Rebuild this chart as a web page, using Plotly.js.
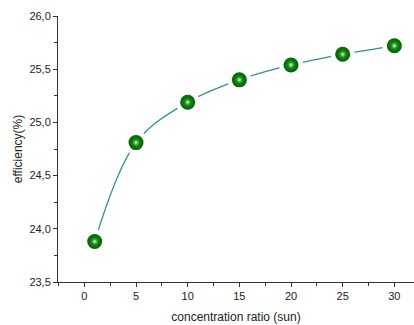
<!DOCTYPE html>
<html><head><meta charset="utf-8">
<script src="https://cdn.plot.ly/plotly-3.0.1.min.js"></script>
<style>html,body{margin:0;padding:0;background:#fff}#c{width:414px;height:325px}</style>
</head><body><div id="c"></div>
<script>
var ratio = [1, 5, 10, 15, 20, 25, 30];
var efficiency = [23.88, 24.81, 25.19, 25.40, 25.54, 25.64, 25.72];
var yTickVals = [23.5, 24.0, 24.5, 25.0, 25.5, 26.0];
var xTickVals = [0, 5, 10, 15, 20, 25, 30];

var traces = [
  {x: ratio, y: efficiency, mode: 'lines', line: {shape: 'spline', smoothing: 1, color: '#2a9196', width: 1.3}, hoverinfo: 'skip'},
  {x: ratio, y: efficiency, mode: 'markers', marker: {size: 24, color: '#ffffff'}, hoverinfo: 'skip'},
  {x: ratio, y: efficiency, mode: 'markers', marker: {size: 15, color: '#006400', line: {width: 0}, gradient: {type: 'radial', color: '#1f9a1f'}}},
  {x: ratio, y: efficiency, mode: 'markers', marker: {size: 8, color: 'rgba(40,160,40,0)', line: {width: 0}, gradient: {type: 'radial', color: '#f4fff4'}}, hoverinfo: 'skip'}
];
var axisFont = {family: 'Liberation Sans, Arial, sans-serif', size: 11, color: '#222'};
var layout = {
  width: 414, height: 325,
  margin: {l: 58, r: 0, t: 16, b: 43},
  paper_bgcolor: '#fff', plot_bgcolor: '#fff',
  showlegend: false,
  separators: ',.',
  font: axisFont,
  xaxis: {
    range: [-2.55, 31.9], tickvals: xTickVals, ticks: 'outside', ticklen: 4, tickwidth: 1, tickcolor: '#333',
    minor: {dtick: 2.5, tick0: 0, ticks: 'outside', ticklen: 3, tickcolor: '#333'},
    showgrid: false, zeroline: false, showline: true, linecolor: '#333', linewidth: 1,
    tickfont: axisFont,
    title: {text: 'concentration ratio (sun)', font: {family: 'Liberation Sans, Arial, sans-serif', size: 12, color: '#222'}, standoff: 11}
  },
  yaxis: {
    range: [23.5, 26.0], tickvals: yTickVals, tickformat: '.1f', ticks: 'outside', ticklen: 4, tickwidth: 1, tickcolor: '#333',
    minor: {dtick: 0.25, tick0: 23.5, ticks: 'outside', ticklen: 3, tickcolor: '#333'},
    showgrid: false, zeroline: false, showline: true, linecolor: '#333', linewidth: 1,
    tickfont: axisFont,
    title: {text: 'efficiency(%)', font: {family: 'Liberation Sans, Arial, sans-serif', size: 12, color: '#222'}, standoff: 4}
  }
};
Plotly.newPlot('c', traces, layout, {displayModeBar: false, staticPlot: true});
</script></body></html>
